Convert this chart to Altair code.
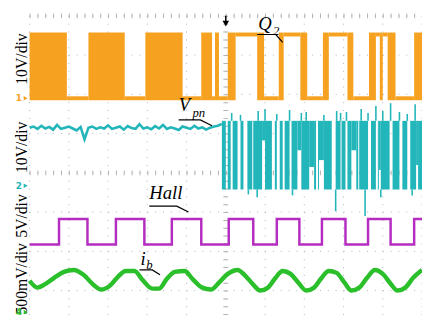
import altair as alt
import pandas as pd

# Oscilloscope screen coordinates: x = time divisions (0..10), y = vertical divisions (0 = centre line)
GRID_X = [0, 1, 2, 3, 4, 5, 6, 7, 8, 9, 10]
GRID_Y = [4, 3, 2, 1, 0, -1, -2, -3]
Y_MIN, Y_MAX = -3.675, 4.0

# ---- CH1: Q2 gate signal (orange) ----
Q2_HIGH = 3.525
Q2_LOW = 1.9
q2_fill_start = [0.0, 1.5, 2.95, 4.375, 4.725, 5.05, 5.8, 6.35, 6.9, 7.475, 8.1, 8.65, 8.925, 9.125, 9.8]
q2_fill_end = [0.95, 2.425, 3.9, 4.65, 4.825, 5.25, 5.975, 6.475, 7.075, 7.625, 8.25, 8.825, 9.0, 9.325, 10.0]
q2_high_start = [5.25, 6.475, 7.625, 8.825, 9.0]
q2_high_end = [5.8, 6.9, 8.1, 8.925, 9.125]
q2_low_start = [0.95, 2.425, 3.9, 4.65, 4.825, 5.975, 7.075, 8.25, 9.325]
q2_low_end = [1.5, 2.95, 4.375, 4.725, 5.05, 6.35, 7.475, 8.65, 9.8]

# ---- CH2: Vpn (teal) ----
vpn_left_t = [i / 10 for i in range(50)]
vpn_left_y = [1.15, 1.18, 1.12, 1.2, 1.13, 1.17, 1.1, 1.22, 1.12, 1.15,
              1.18, 1.13, 1.08, 1.17, 0.85, 1.15, 1.18, 1.12, 1.16, 1.13,
              1.21, 1.12, 1.15, 1.18, 1.1, 1.19, 1.14, 1.12, 1.24, 1.13,
              1.16, 1.11, 1.19, 1.13, 1.22, 1.12, 1.16, 1.13, 1.09, 1.18,
              1.15, 1.12, 1.2, 1.13, 1.16, 1.1, 1.15, 1.18, 1.2, 1.25]
VPN_TOP = 1.325
VPN_BOTTOM = -0.425
VPN_FILL_START = 4.9
vpn_gap_start = [5.0, 5.125, 5.3, 5.45, 5.675, 5.925, 6.175, 6.3, 6.45, 6.625, 6.825, 7.125, 7.3, 7.375,
                 7.7, 7.925, 8.05, 8.2, 8.375, 8.625, 8.825, 8.9, 9.175, 9.425, 9.625, 9.85]
vpn_gap_end = [5.05, 5.175, 5.375, 5.55, 5.7, 6.0, 6.25, 6.375, 6.5, 6.675, 6.925, 7.25, 7.35, 7.5,
               7.8, 7.95, 8.1, 8.325, 8.4, 8.7, 8.875, 8.95, 9.25, 9.5, 9.7, 9.9]
vpn_gap_top = [1.325, 1.325, 1.325, 1.325, 1.325, 0.825, 1.325, 1.325, 1.325, 1.325, 0.575, 0.15, 1.325, 0.325,
               1.325, 1.325, 1.325, 0.575, 1.325, 1.325, 1.325, 0.075, 1.325, 1.325, 1.325, 0.2]
vpn_up_t = [5.15, 5.375, 5.825, 6.0, 6.3, 6.625, 6.925, 7.05, 7.5, 7.825, 7.925, 8.075, 8.45, 8.625, 8.825,
            9.0, 9.2, 9.425, 9.625, 9.825]
vpn_up_y = [1.525, 1.475, 1.575, 1.625, 1.5, 1.6, 1.525, 1.55, 1.475, 1.575, 1.525, 1.55, 1.625, 1.525, 1.7,
            1.575, 1.775, 1.55, 1.5, 1.75]
vpn_down_t = [5.575, 5.8, 6.7, 7.8, 8.55, 8.95, 9.75]
vpn_down_y = [-0.55, -0.625, -0.575, -0.975, -1.1, -0.625, -0.575]

# ---- CH3: Hall signal (magenta) ----
HALL_HIGH = -1.175
HALL_LOW = -1.825
hall_high_start = [0.75, 2.2, 3.625, 5.075, 6.3, 7.45, 8.625, 9.8]
hall_high_end = [1.475, 2.925, 4.375, 5.7, 6.875, 8.05, 9.2, 10.0]

# ---- CH4: phase current ib (green) ----
ib_t = [0, 0.2, 0.375, 0.625, 0.875, 1.125, 1.375, 1.625, 1.825, 2.05, 2.25, 2.45, 2.675, 2.875, 3.125,
        3.3, 3.5, 3.7, 3.95, 4.15, 4.4, 4.625, 4.825, 5.05, 5.3, 5.5, 5.7, 5.875, 6.075, 6.25, 6.45,
        6.65, 6.85, 7.05, 7.25, 7.425, 7.625, 7.825, 8.025, 8.2, 8.4, 8.6, 8.8, 9.0, 9.2, 9.375, 9.575,
        9.775, 10.0]
ib_y = [-2.75, -2.925, -2.85, -2.675, -2.525, -2.475, -2.6, -2.85, -2.975, -2.875, -2.65, -2.5, -2.5,
        -2.725, -2.95, -2.95, -2.7, -2.525, -2.5, -2.7, -2.925, -2.975, -2.8, -2.575, -2.475, -2.625,
        -2.85, -3.0, -2.925, -2.7, -2.5, -2.575, -2.8, -3.0, -2.925, -2.7, -2.5, -2.55, -2.8, -3.0,
        -2.925, -2.675, -2.475, -2.575, -2.825, -3.0, -2.925, -2.675, -2.475]

# ---- texts ----
scale_labels = ["10V/div", "10V/div", "5V/div", "500mV/div"]
scale_label_y = [2.9, 0.65, -1.1, -2.7]
marker_text = ["1", "2", "4"]
marker_y = [1.9, -0.33, -3.55]
marker_color = ["#F5A020", "#22B5BA", "#2DBE2D"]

ORANGE = "#F6A11F"
TEAL = "#22B5BA"
MAGENTA = "#B42CC0"
GREEN = "#2CBF2C"
GRID = "#b4b4b4"

xs = alt.Scale(domain=[0, 10], nice=False, zero=False)
ys = alt.Scale(domain=[Y_MIN, Y_MAX], nice=False, zero=False)


def X(f="t"):
    return alt.X(f, type="quantitative", scale=xs, axis=None)


def Y(f="y"):
    return alt.Y(f, type="quantitative", scale=ys, axis=None)


layers = []

# grid
vgrid = pd.DataFrame({"t": GRID_X, "y": [Y_MAX] * len(GRID_X), "y2": [Y_MIN] * len(GRID_X)})
layers.append(alt.Chart(vgrid).mark_rule(color=GRID, strokeWidth=1, strokeDash=[1, 7]).encode(
    x=X(), y=Y(), y2="y2"))
hgrid = pd.DataFrame({"t": [0] * len(GRID_Y), "t2": [10] * len(GRID_Y), "y": GRID_Y})
layers.append(alt.Chart(hgrid).mark_rule(color=GRID, strokeWidth=1, strokeDash=[1, 7]).encode(
    x=X(), x2="t2", y=Y()))
# ruler ticks on centre lines and top edge
layers.append(alt.Chart(pd.DataFrame({"t": [5], "y": [Y_MAX], "y2": [Y_MIN]})).mark_rule(
    color=GRID, strokeWidth=5, strokeDash=[1, 7]).encode(x=X(), y=Y(), y2="y2"))
layers.append(alt.Chart(pd.DataFrame({"t": [0, 0], "t2": [10, 10], "y": [0, Y_MAX]})).mark_rule(
    color=GRID, strokeWidth=5, strokeDash=[1, 7]).encode(x=X(), x2="t2", y=Y()))

# orange Q2
q2f = pd.DataFrame({"t": q2_fill_start, "t2": q2_fill_end, "y": [Q2_HIGH + 0.05] * len(q2_fill_start),
                    "y2": [Q2_LOW - 0.05] * len(q2_fill_start)})
layers.append(alt.Chart(q2f).mark_rect(color=ORANGE).encode(x=X(), x2="t2", y=Y(), y2="y2"))
q2h = pd.DataFrame({"t": q2_high_start, "t2": q2_high_end, "y": [Q2_HIGH] * len(q2_high_start)})
layers.append(alt.Chart(q2h).mark_rule(color=ORANGE, strokeWidth=4).encode(x=X(), x2="t2", y=Y()))
q2l = pd.DataFrame({"t": q2_low_start, "t2": q2_low_end, "y": [Q2_LOW] * len(q2_low_start)})
layers.append(alt.Chart(q2l).mark_rule(color=ORANGE, strokeWidth=4).encode(x=X(), x2="t2", y=Y()))

# teal Vpn
vl = pd.DataFrame({"t": vpn_left_t, "y": vpn_left_y})
layers.append(alt.Chart(vl).mark_line(color=TEAL, strokeWidth=2.6).encode(x=X(), y=Y()))
segs = []
cur = VPN_FILL_START
for a, b, top in zip(vpn_gap_start, vpn_gap_end, vpn_gap_top):
    segs.append((cur, a, VPN_TOP, VPN_BOTTOM))
    if top < VPN_TOP:
        segs.append((a, b, VPN_TOP, top))
    cur = b
segs.append((cur, 10.0, VPN_TOP, VPN_BOTTOM))
vf = pd.DataFrame(segs, columns=["t", "t2", "y", "y2"])
layers.append(alt.Chart(vf).mark_rect(color=TEAL).encode(x=X(), x2="t2", y=Y(), y2="y2"))
vu = pd.DataFrame({"t": vpn_up_t, "y": vpn_up_y, "y2": [VPN_TOP] * len(vpn_up_t)})
layers.append(alt.Chart(vu).mark_rule(color=TEAL, strokeWidth=1.6).encode(x=X(), y=Y(), y2="y2"))
vd = pd.DataFrame({"t": vpn_down_t, "y": vpn_down_y, "y2": [VPN_BOTTOM] * len(vpn_down_t)})
layers.append(alt.Chart(vd).mark_rule(color=TEAL, strokeWidth=1.6).encode(x=X(), y=Y(), y2="y2"))

# magenta Hall (step trace)
pts = [(0.0, HALL_LOW)]
for a, b in zip(hall_high_start, hall_high_end):
    pts += [(a, HALL_LOW), (a, HALL_HIGH), (b, HALL_HIGH)]
    if b < 10:
        pts.append((b, HALL_LOW))
hall = pd.DataFrame(pts, columns=["t", "y"])
hall["i"] = range(len(hall))
layers.append(alt.Chart(hall).mark_line(color=MAGENTA, strokeWidth=2.5).encode(
    x=X(), y=Y(), order="i:Q"))

# green ib
ib = pd.DataFrame({"t": ib_t, "y": ib_y})
layers.append(alt.Chart(ib).mark_line(color=GREEN, strokeWidth=4.5, interpolate="monotone").encode(
    x=X(), y=Y()))

# trigger arrow at top
layers.append(alt.Chart(pd.DataFrame({"t": [5.0], "y": [4.0], "y2": [3.85]})).mark_rule(
    color="black", strokeWidth=1.5).encode(x=X(), y=Y(), y2="y2"))
layers.append(alt.Chart(pd.DataFrame({"t": [5.0], "y": [3.8]})).mark_point(
    shape="triangle-down", filled=True, color="black", size=45, opacity=1).encode(x=X(), y=Y()))

# annotations
ann_big = pd.DataFrame({"txt": ["Q", "V", "Hall", "i"], "t": [5.825, 3.8, 3.05, 2.825],
                        "y": [3.65, 1.575, -0.675, -2.35]})
layers.append(alt.Chart(ann_big).mark_text(font="Liberation Serif", fontStyle="italic", fontSize=19,
                                           align="left", baseline="alphabetic", color="black").encode(
    x=X(), y=Y(), text="txt"))
ann_sub = pd.DataFrame({"txt": ["2", "pn", "b"], "t": [6.2, 4.15, 2.975], "y": [3.5, 1.425, -2.45]})
layers.append(alt.Chart(ann_sub).mark_text(font="Liberation Serif", fontStyle="italic", fontSize=13,
                                           align="left", baseline="alphabetic", color="black").encode(
    x=X(), y=Y(), text="txt"))
lead = pd.DataFrame({
    "g": ["q"] * 3 + ["v"] * 3 + ["h"] * 3 + ["i"] * 3,
    "k": [0, 1, 2] * 4,
    "t": [5.8, 6.275, 6.45, 3.8, 4.35, 4.65, 3.05, 3.75, 4.05, 2.8, 3.125, 3.325],
    "y": [3.525, 3.525, 3.325, 1.35, 1.35, 1.2, -0.85, -0.85, -1.0, -2.475, -2.475, -2.6],
})
layers.append(alt.Chart(lead).mark_line(color="black", strokeWidth=1.2).encode(
    x=X(), y=Y(), detail="g:N", order="k:Q"))

# left channel scale labels
sl = pd.DataFrame({"txt": scale_labels, "y": scale_label_y})
layers.append(alt.Chart(sl).mark_text(font="Liberation Serif", fontSize=16, angle=270, align="center",
                                      baseline="middle", color="black").encode(
    x=alt.value(-8), y=Y(), text="txt"))
mk = pd.DataFrame({"txt": marker_text, "y": marker_y, "c": marker_color})
layers.append(alt.Chart(mk).mark_text(font="DejaVu Sans", fontSize=9, fontWeight="bold", align="center",
                                      baseline="middle").encode(
    x=alt.value(-11), y=Y(), text="txt", color=alt.Color("c:N", scale=None)))
layers.append(alt.Chart(mk).mark_point(shape="triangle-right", filled=True, size=22, opacity=1).encode(
    x=alt.value(-4), y=Y(), color=alt.Color("c:N", scale=None)))

chart = alt.layer(*layers).properties(
    width=400, height=307,
    padding={"left": 22, "top": 5, "right": 0, "bottom": 0},
    autosize=alt.AutoSizeParams(type="none"),
    background="white",
).configure_view(stroke=None)

chart.save("out.html", embed_options={"renderer": "svg", "actions": False})
